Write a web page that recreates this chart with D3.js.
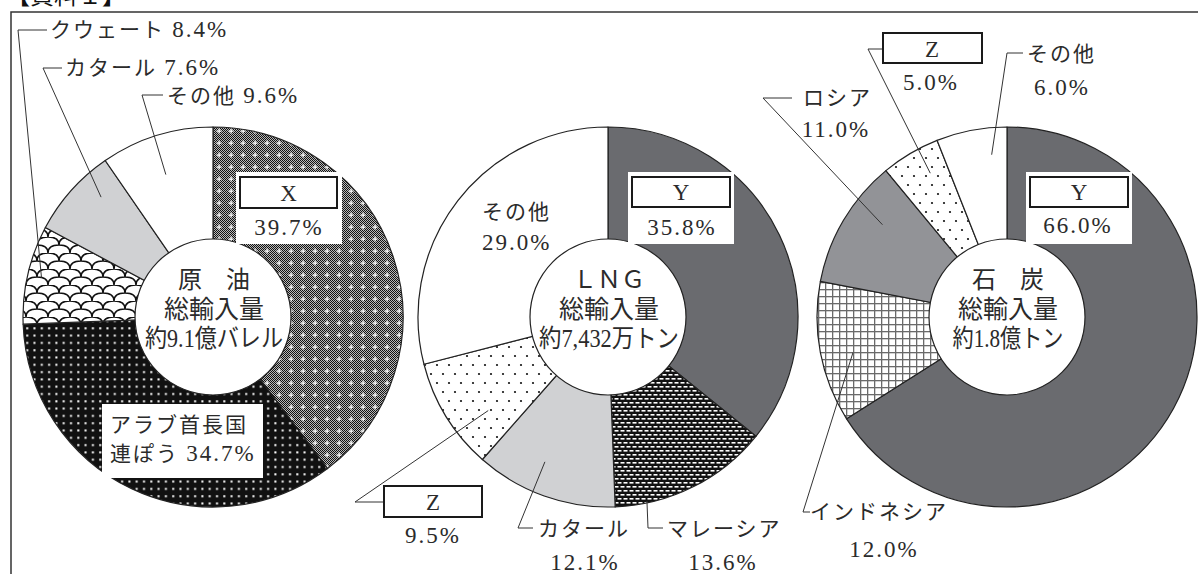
<!DOCTYPE html>
<html><head><meta charset="utf-8">
<script src="https://cdn.jsdelivr.net/npm/d3@7"></script>
<style>html,body{margin:0;padding:0;background:#fff;} svg{display:block;}</style>
</head><body><svg id="c" width="1198" height="574"></svg>
<script>
// ---------- data ----------
const crudeCategories = ["X","アラブ首長国連ぽう","クウェート","カタール","その他"];
const crudeValues = [39.7,34.7,8.4,7.6,9.6];
const lngCategories = ["Y","マレーシア","カタール","Z","その他"];
const lngValues = [35.8,13.6,12.1,9.5,29.0];
const coalCategories = ["Y","インドネシア","ロシア","Z","その他"];
const coalValues = [66.0,12.0,11.0,5.0,6.0];
const centerTitles = ["原　油","ＬＮＧ","石　炭"];
const centerSubs = ["総輸入量","総輸入量","総輸入量"];
const centerTotals = ["約9.1億バレル","約7,432万トン","約1.8億トン"];
const docTitle = "【資料１】";

// ---------- layout / style ----------
const W = 1198, H = 574, CY = 317, R_OUT = 190, R_IN = 78;
const FONT = "'Liberation Serif','Noto Sans CJK JP',serif";
const TXT = "#2b2b2b";
const svg = d3.select("#c");
const defs = svg.append("defs");

// checker base
const chk = defs.append("pattern").attr("id","chk").attr("patternUnits","userSpaceOnUse").attr("width",2).attr("height",2);
chk.append("rect").attr("width",2).attr("height",2).attr("fill","#b8b8b8");
chk.append("rect").attr("width",1).attr("height",1).attr("fill","#111");
chk.append("rect").attr("x",1).attr("y",1).attr("width",1).attr("height",1).attr("fill","#111");
// X pattern
const pX = defs.append("pattern").attr("id","pX").attr("patternUnits","userSpaceOnUse").attr("width",12).attr("height",12);
pX.append("rect").attr("width",12).attr("height",12).attr("fill","url(#chk)");
pX.append("rect").attr("x",5.5).attr("y",3.5).attr("width",1.2).attr("height",5).attr("fill","#fff");
pX.append("rect").attr("x",3.5).attr("y",5.5).attr("width",5).attr("height",1.2).attr("fill","#fff");
// UAE: black with white dots
const pU = defs.append("pattern").attr("id","pU").attr("patternUnits","userSpaceOnUse").attr("width",7.3).attr("height",7.3);
pU.append("rect").attr("width",7.3).attr("height",7.3).attr("fill","#111");
pU.append("rect").attr("x",3).attr("y",3).attr("width",2).attr("height",2).attr("fill","#fff");
// Kuwait: fish scale
const pK = defs.append("pattern").attr("id","pK").attr("patternUnits","userSpaceOnUse").attr("width",22).attr("height",16);
pK.append("rect").attr("width",22).attr("height",16).attr("fill","#fff");
pK.append("path").attr("d","M0,8 Q0,0 11,0 Q22,0 22,8 M-11,16 Q-11,8 0,8 Q11,8 11,16 M11,16 Q11,8 22,8 Q33,8 33,16")
  .attr("fill","none").attr("stroke","#111").attr("stroke-width",1.6);
// Malaysia: black with white dashes
const pM = defs.append("pattern").attr("id","pM").attr("patternUnits","userSpaceOnUse").attr("width",6).attr("height",8);
pM.append("rect").attr("width",6).attr("height",8).attr("fill","#111");
pM.append("rect").attr("x",0.5).attr("y",1).attr("width",4).attr("height",1.6).attr("fill","#fff");
pM.append("rect").attr("x",3.5).attr("y",5).attr("width",4).attr("height",1.6).attr("fill","#fff");
pM.append("rect").attr("x",-2.5).attr("y",5).attr("width",4).attr("height",1.6).attr("fill","#fff");
// Z: sparse dots
const pD = defs.append("pattern").attr("id","pD").attr("patternUnits","userSpaceOnUse").attr("width",12).attr("height",18);
pD.append("rect").attr("width",12).attr("height",18).attr("fill","#fff");
pD.append("circle").attr("cx",3).attr("cy",3).attr("r",1.1).attr("fill","#111");
pD.append("circle").attr("cx",9).attr("cy",12).attr("r",1.1).attr("fill","#111");
// Indonesia: grid
const pG = defs.append("pattern").attr("id","pG").attr("patternUnits","userSpaceOnUse").attr("width",7).attr("height",7);
pG.append("rect").attr("width",7).attr("height",7).attr("fill","#fff");
pG.append("rect").attr("width",7).attr("height",1.3).attr("fill","#6a6a6a");
pG.append("rect").attr("width",1.3).attr("height",7).attr("fill","#6a6a6a");

const DARK = "#6a6b6f", MID = "#929397", LIGHT = "#d0d1d3";

const pies = [
  { cats: crudeCategories, vals: crudeValues, cx: 213,
    fills: ["url(#pX)","url(#pU)","url(#pK)",LIGHT,"#fff"],
    lab: [
      {kind:"box", bg:[236,172,106,72], box:[240,177,97,31], name:[288.5,201], pct:[289,235]},
      {kind:"split", bg:[102,404,161,74], l1:[110,432], l2:[110,461], cut:6},
      {kind:"lead", t:.5, r:176, pts:[[18,30],[47,30]], inline:[50,37]},
      {kind:"lead", t:.69, r:164, pts:[[43,68],[62,68]], inline:[65,75]},
      {kind:"lead", t:.47, r:150, pts:[[142,95],[163,95]], inline:[167,103]}
    ]},
  { cats: lngCategories, vals: lngValues, cx: 608,
    fills: [DARK,"url(#pM)",LIGHT,"url(#pD)","#fff"],
    lab: [
      {kind:"box", bg:[628,172,106,72], box:[632,177,98,30], name:[681,200], pct:[682,235]},
      {kind:"lead", t:.8, r:188, pts:[[648,528],[663,528]], name:[667,536], pct:[723,570]},
      {kind:"lead", t:.59, r:158, pts:[[518,528],[533,528]], name:[538,536], pct:[585,570]},
      {kind:"lead", t:.31, r:152, pts:[[355,502],[384,502]], box:[384,486,98,31], name:[433,510], pct:[433,543]},
      {kind:"plain", name:[482,219], pct:[482,250], anchor:"start"}
    ]},
  { cats: coalCategories, vals: coalValues, cx: 1007,
    fills: [DARK,"url(#pG)",MID,"url(#pD)","#fff"],
    lab: [
      {kind:"box", bg:[1026,172,106,72], box:[1030,177,98,30], name:[1079,200], pct:[1078,233]},
      {kind:"lead", t:.45, r:158, pts:[[803,512],[810,512]], name:[810,519], pct:[884,557]},
      {kind:"lead", t:.65, r:155, pts:[[763,98],[792,98]], name:[803,105], pct:[836,137]},
      {kind:"lead", t:.64, r:163, pts:[[868,49],[883,49]], box:[883,33,99,30], name:[932,57], pct:[931,90]},
      {kind:"lead", t:.75, r:163, pts:[[1007,53],[1023,53]], name:[1027,61], pct:[1062,95]}
    ]}
];

const fmt = v => d3.format(".1f")(v) + "%";
const pieGen = d3.pie().sort(null).value(d => d);
const arcGen = d3.arc().innerRadius(0).outerRadius(R_OUT);
const PCT_SIZE = 23;

// frame and title
svg.append("text").attr("x",6).attr("y",4).attr("font-family",FONT).attr("font-size",24)
  .attr("fill","#111").text(docTitle);
svg.append("path").attr("d",`M11,${H} V12 H${W}`).attr("fill","none").attr("stroke","#333").attr("stroke-width",1.5);

const gPies = svg.append("g");
const gLines = svg.append("g");
const gLabels = svg.append("g");

function txt(g, x, y, s, anchor, size, ls) {
  return g.append("text").attr("x",x).attr("y",y).attr("text-anchor",anchor||"start")
    .attr("font-family",FONT).attr("font-size",size||21).attr("fill",TXT)
    .attr("letter-spacing", ls==null ? 2 : ls).text(s);
}
function txtMixed(g, x, y, name, pct) {
  const t = g.append("text").attr("x",x).attr("y",y)
    .attr("font-family",FONT).attr("font-size",21).attr("fill",TXT).attr("letter-spacing",2);
  t.append("tspan").text(name + " ");
  t.append("tspan").attr("font-size",PCT_SIZE).text(pct);
  return t;
}

pies.forEach((p, pi) => {
  const arcs = pieGen(p.vals);
  const g = gPies.append("g").attr("transform",`translate(${p.cx},${CY})`);
  g.selectAll("path").data(arcs).join("path")
    .attr("d", arcGen).attr("fill",(d,i)=>p.fills[i])
    .attr("stroke","#222").attr("stroke-width",1.2).attr("stroke-linejoin","round");
  g.append("circle").attr("r",R_IN).attr("fill","#fff").attr("stroke","#222").attr("stroke-width",1.2);
  // center text
  txt(g, 1, -29, centerTitles[pi], "middle", 24, 0);
  txt(g, 1, 1, centerSubs[pi], "middle", 25, 0);
  const cw = [138,140,111][pi];
  txt(g, 1, 30, centerTotals[pi], "middle", 25, 0)
    .attr("textLength", cw).attr("lengthAdjust","spacingAndGlyphs");

  arcs.forEach((d, i) => {
    const L = p.lab[i];
    const name = p.cats[i], pct = fmt(p.vals[i]);
    if (L.kind === "lead") {
      const a = d.startAngle + L.t * (d.endAngle - d.startAngle);
      const ax = p.cx + L.r * Math.sin(a), ay = CY - L.r * Math.cos(a);
      const pts = [[ax, ay], ...L.pts];
      gLines.append("path").attr("d", d3.line()(pts)).attr("fill","none")
        .attr("stroke","#333").attr("stroke-width",1);
    }
    if (L.bg) {
      gLabels.append("rect").attr("x",L.bg[0]).attr("y",L.bg[1]).attr("width",L.bg[2]).attr("height",L.bg[3]).attr("fill","#fff");
    }
    if (L.box) {
      gLabels.append("rect").attr("x",L.box[0]).attr("y",L.box[1]).attr("width",L.box[2]).attr("height",L.box[3])
        .attr("fill","#fff").attr("stroke","#1a1a1a").attr("stroke-width",2);
    }
    if (L.kind === "split") {
      txt(gLabels, L.l1[0], L.l1[1], name.slice(0, L.cut));
      txtMixed(gLabels, L.l2[0], L.l2[1], name.slice(L.cut), pct);
    } else if (L.inline) {
      txtMixed(gLabels, L.inline[0], L.inline[1], name, pct);
    } else {
      const nameAnchor = L.box ? "middle" : "start";
      txt(gLabels, L.name[0], L.name[1], name, nameAnchor, L.box ? 23 : 21, L.box ? 0 : 2);
      txt(gLabels, L.pct[0], L.pct[1], pct, L.anchor || "middle", PCT_SIZE, 2);
    }
  });
});
</script></body></html>
